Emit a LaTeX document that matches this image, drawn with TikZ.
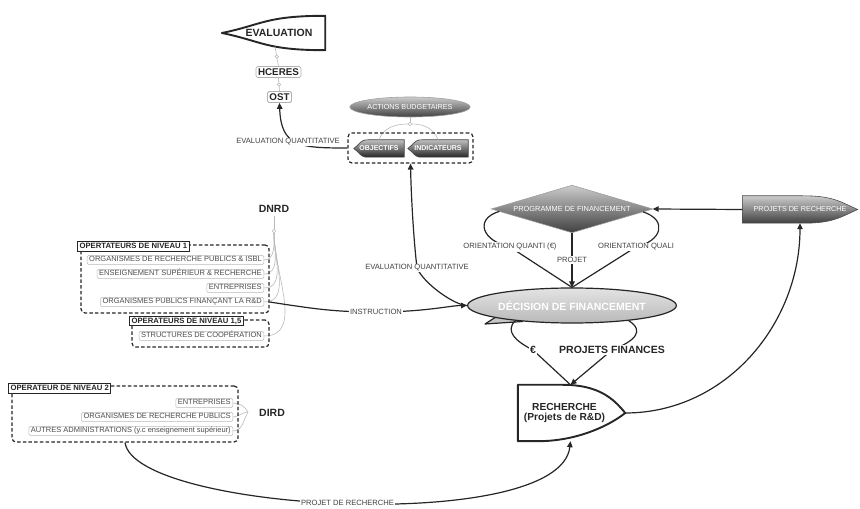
\documentclass[tikz,border=0pt]{standalone}
\usepackage{fontspec}
\setmainfont{Liberation Sans}
\usetikzlibrary{shapes.geometric,arrows.meta,calc}
\pgfdeclarelayer{bg}
\pgfdeclarelayer{edges}
\pgfsetlayers{bg,edges,main}
\newcommand\fsz[1]{\fontsize{#1}{#1}\selectfont}
\tikzset{
 item/.style={draw=gray!55, line width=0.5pt, rounded corners=1.2pt, fill=white, inner xsep=2pt, inner ysep=1.1pt, text height=5.4pt, text depth=1.4pt, font=\fsz{7.5}, text=black!70},
 ttl/.style={draw=black!85, line width=1.1pt, fill=white, inner xsep=2pt, inner ysep=1.2pt, text height=5.5pt, text depth=1.3pt, font=\fsz{7.7}\bfseries, text=black!85},
 grpbox/.style={draw=black!85, line width=1.2pt, dash pattern=on 3.5pt off 2.2pt, rounded corners=4pt, inner sep=0pt},
 lbl/.style={fill=white, inner sep=1pt, font=\fsz{7.6}, text=black!75},
 blbl/.style={fill=white, inner sep=1pt, font=\fsz{10.5}\bfseries, text=black!85},
 link/.style={draw=black!85, line width=1.2pt},
 arr/.style={link, -{Triangle[length=6pt,width=5.5pt]}},
 fine/.style={draw=gray!55, line width=0.6pt},
 dotc/.style={circle, draw=gray!55, fill=white, line width=0.5pt, inner sep=0pt, minimum size=3.5pt},
 box/.style={draw=gray!60, line width=0.8pt, rounded corners=1.5pt, fill=white, inner sep=2pt, font=\fsz{9.8}\bfseries, text=black!85},
 darkshape/.style={draw=black!75, line width=0.6pt, top color=gray!50, bottom color=black!85},
 medshape/.style={draw=gray!75, line width=0.6pt, top color=gray!40, bottom color=black!75},
 whiteshape/.style={draw=black!85, fill=white, line width=1.9pt, line join=round},
 hollow/.style={inner sep=0pt, align=center},
}
\begin{document}
\begin{tikzpicture}[x=1pt,y=1pt]
\useasboundingbox (0,0) rectangle (860,509);

% ---------- nodes ----------
\node[hollow, minimum width=92pt, minimum height=34pt, font=\fsz{10.5}\bfseries, text=black!85] (eval) at (279,476) {EVALUATION};
\node[box] (hceres) at (278.5,437) {HCERES};
\node[box] (ost) at (279.5,412) {OST};

\node[ellipse, medshape, minimum width=100pt, minimum height=20pt, inner sep=0pt, font=\fsz{7.2}, text=white] (actions) at (410,402) {ACTIONS BUDGETAIRES};
\node[grpbox, minimum width=125pt, minimum height=30pt] (grp) at (410.5,361) {};
\node[hollow, minimum width=50pt, minimum height=17pt, font=\fsz{7}\bfseries, text=white] (obj) at (379,360.5) {OBJECTIFS};
\node[hollow, minimum width=60pt, minimum height=17pt, font=\fsz{7}\bfseries, text=white] (ind) at (438,360.5) {INDICATEURS};
\node[dotc] (dota) at (410,385) {};

\node[font=\fsz{10.5}\bfseries, text=black!85] (dnrd) at (274,300) {DNRD};
\node[dotc] (dotn) at (274,278) {};

\node[grpbox, minimum width=188pt, minimum height=68pt] (g1) at (175,230) {};
\node[ttl, anchor=west] (t1) at (77,262.5) {OPERTATEURS DE NIVEAU 1};
\node[item, anchor=east] (i11) at (264,249) {ORGANISMES DE RECHERCHE PUBLICS \& ISBL};
\node[item, anchor=east] (i12) at (264,235) {ENSEIGNEMENT SUPÉRIEUR \& RECHERCHE};
\node[item, anchor=east] (i13) at (264,221) {ENTREPRISES};
\node[item, anchor=east] (i14) at (264,207) {ORGANISMES PUBLICS FINANÇANT LA R\&D};

\node[grpbox, minimum width=137pt, minimum height=27pt] (g15) at (200.5,175.5) {};
\node[ttl, anchor=west] (t15) at (129,188) {OPERATEURS DE NIVEAU 1,5};
\node[item, anchor=east] (i151) at (264,173) {STRUCTURES DE COOPÉRATION};

\node[grpbox, minimum width=226pt, minimum height=56pt] (g2) at (125,95) {};
\node[ttl, anchor=west] (t2) at (8,120.5) {OPERATEUR DE NIVEAU 2};
\node[item, anchor=east] (i21) at (233,106) {ENTREPRISES};
\node[item, anchor=east] (i22) at (233,92) {ORGANISMES DE RECHERCHE PUBLICS};
\node[item, anchor=east] (i23) at (233,78) {AUTRES ADMINISTRATIONS (y.c enseignement supérieur)};
\node[font=\fsz{10.5}\bfseries, text=black!85] (dird) at (272,96) {DIRD};
\coordinate (db) at (248,97);

\node[hollow, minimum width=161pt, minimum height=47pt, font=\fsz{7.4}, text=white] (prog) at (572,300) {PROGRAMME DE FINANCEMENT};
\node[hollow, minimum width=115pt, minimum height=27pt, font=\fsz{7.2}, text=white] (prj) at (800,299.5) {PROJETS DE RECHERCHE};
\node[ellipse, minimum width=172pt, minimum height=35pt, inner sep=0pt, top color=gray!22, bottom color=gray!55, draw=black!85, line width=1.2pt, font=\fsz{10.5}\bfseries, text=white] (dec) at (572,203.5) {DÉCISION DE FINANCEMENT};
\node[hollow, minimum width=93pt, minimum height=56pt, font=\fsz{10.2}\bfseries, text=black!85] (rech) at (564.5,96) {RECHERCHE\\(Projets de R\&D)};

% connector labels
\node[lbl] (evq1) at (288,367) {EVALUATION QUANTITATIVE};
\node[lbl] (evq2) at (417,241) {EVALUATION QUANTITATIVE};
\node[lbl] (instr) at (376,197) {INSTRUCTION};
\node[lbl] (oqn) at (510,262) {ORIENTATION QUANTI (€)};
\node[lbl] (oql) at (636,262) {ORIENTATION QUALI};
\node[blbl] (euro) at (533,159) {€};
\node[blbl] (pf) at (612,159) {PROJETS FINANCES};

% ---------- shapes ----------
\begin{pgfonlayer}{bg}
\path[whiteshape] (eval.north east) -- (eval.south east) .. controls +(-60,0) and +(40,-8) .. ([xshift=-11]eval.west) .. controls +(40,8) and +(-60,0) .. (eval.north east) -- cycle;
\path[darkshape] (obj.north east) -- (obj.south east) -- ([xshift=14]obj.south west) .. controls +(-8,0) and +(6,-4) .. (obj.west) .. controls +(6,4) and +(-8,0) .. ([xshift=14]obj.north west) -- cycle;
\path[darkshape] (ind.north east) -- (ind.south east) -- ([xshift=14]ind.south west) .. controls +(-8,0) and +(6,-4) .. (ind.west) .. controls +(6,4) and +(-8,0) .. ([xshift=14]ind.north west) -- cycle;
\path[medshape] (prog.north) -- (prog.east) -- (prog.south) -- (prog.west) -- cycle;
\path[medshape, draw=black!70] (prj.north west) -- (prj.south west) -- ([xshift=-55]prj.south east) .. controls +(30,0) and +(-18,-8) .. (prj.east) .. controls +(-18,8) and +(30,0) .. ([xshift=-55]prj.north east) -- cycle;
\path[draw=black!85, fill=gray!45, line width=1.2pt, line join=round] (dec.189) -- (485,185) -- (dec.198);
\path[whiteshape] (rech.north west) -- (rech.south west) -- ([xshift=20]rech.south west) .. controls +(40,0) and +(-15,-12) .. ([xshift=14]rech.east) .. controls +(-12,15) and +(35,0) .. ([xshift=45]rech.north west) -- cycle;
\end{pgfonlayer}

% ---------- connectors ----------
\begin{pgfonlayer}{edges}
\draw[fine] (hceres.north) -- node[dotc] (c1) {} ([xshift=-4,yshift=3.5]eval.south);
\draw[fine] (ost.north) -- node[dotc] (c2) {} (hceres.south);
\draw[arr] (grp.west) .. controls (300,361) and (281,362) .. (ost.south);

\draw[fine] (actions.south) -- (dota);
\draw[fine] (dota) to[out=180,in=70] (obj.north);
\draw[fine] (dota) to[out=0,in=110] (ind.north);

\draw[fine] (dnrd.south) -- (dotn);
\foreach \n in {i11,i12,i13,i14,i151} \draw[fine] (dotn) to[out=-90,in=0] (\n.east);

\draw[fine] (i21.east) to[out=0,in=120] (db);
\draw[fine] (i22.east) to[out=0,in=180] (db);
\draw[fine] (i23.east) to[out=0,in=240] (db);

\draw[arr] (prj.west) -- (prog.east);
\draw[link] ($(prog.west)!0.1!(prog.south)$) .. controls (474,290) and (482,268) .. (oqn.center) -- (dec.north);
\draw[link] ($(prog.east)!0.12!(prog.south)$) .. controls (668,289) and (662,268) .. (oql.center) -- (dec.north);
\draw[arr] (prog.south) -- node[lbl, pos=0.5] (projl) {PROJET} (dec.north);

\draw[link] (dec.195) .. controls (505,178) and (515,168) .. (euro.center) -- ([xshift=6]rech.north);
\draw[arr] (dec.-15) .. controls (645,178) and (635,168) .. (pf.center) -- ([xshift=6]rech.north);

\draw[arr] ([xshift=14]rech.east) to[out=0,in=-90] (prj.south);
\draw[arr] (g2.south) .. controls (135,-3) and (560,-26) .. node[lbl, pos=0.5] (pdr) {PROJET DE RECHERCHE} ([xshift=6]rech.south);

\draw[arr] (g1.east |- i14.east) .. controls (315,200) and (335,197) .. (instr.center) .. controls (425,197) and (450,203.5) .. (dec.west);
\draw[arr] (dec.west) .. controls (455,203.5) and (424,225) .. (evq2.center) .. controls (413,275) and (411,320) .. (grp.south);
\end{pgfonlayer}
\end{tikzpicture}
\end{document}
